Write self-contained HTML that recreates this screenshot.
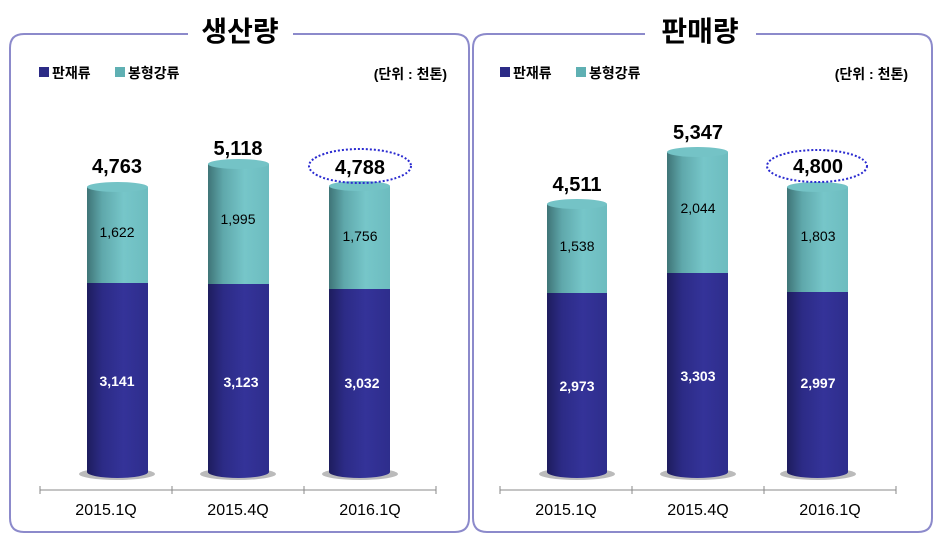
<!DOCTYPE html>
<html><head><meta charset="utf-8"><style>
body{margin:0;background:#fff}
svg text{font-family:"Liberation Sans","Noto Sans CJK KR",sans-serif}
</style></head><body>
<svg width="942" height="538" viewBox="0 0 942 538" xmlns="http://www.w3.org/2000/svg">
<defs>
<linearGradient id="gb" x1="0" x2="1" y1="0" y2="0">
<stop offset="0" stop-color="#1e1d5e"/><stop offset="0.25" stop-color="#2c2b86"/><stop offset="0.6" stop-color="#343399"/><stop offset="1" stop-color="#2e2d8c"/></linearGradient>
<linearGradient id="gt" x1="0" x2="1" y1="0" y2="0">
<stop offset="0" stop-color="#3f7477"/><stop offset="0.25" stop-color="#5fa8ab"/><stop offset="0.6" stop-color="#76c6c9"/><stop offset="1" stop-color="#6dbcbf"/></linearGradient>
</defs>
<g fill="none" stroke="#8c8acb" stroke-width="2">
<path d="M188 34 H24 Q10 34 10 48 V518 Q10 532 24 532 H455 Q469 532 469 518 V48 Q469 34 455 34 H293"/>
<path d="M645 34 H487 Q473 34 473 48 V518 Q473 532 487 532 H918 Q932 532 932 518 V48 Q932 34 918 34 H756"/>
</g>
<text x="240" y="41" font-size="28" font-weight="bold" text-anchor="middle">생산량</text>
<text x="700" y="41" font-size="28" font-weight="bold" text-anchor="middle">판매량</text>
<g font-size="14" font-weight="bold">
<rect x="39" y="67" width="10" height="10" fill="#2c2b86"/><text x="52" y="78">판재류</text>
<rect x="115" y="67" width="10" height="10" fill="#5fb0b3"/><text x="128" y="78">봉형강류</text>
<text x="447" y="79" text-anchor="end">(단위 : 천톤)</text>
<rect x="500" y="67" width="10" height="10" fill="#2c2b86"/><text x="513" y="78">판재류</text>
<rect x="576" y="67" width="10" height="10" fill="#5fb0b3"/><text x="589" y="78">봉형강류</text>
<text x="908" y="79" text-anchor="end">(단위 : 천톤)</text>
</g>
<g>
<ellipse cx="117" cy="474" rx="38" ry="6" fill="#bbb"/>
<path d="M87 283 V472 A30.5 6 0 0 0 148 472 V283 Z" fill="url(#gb)"/>
<path d="M87 187 V283 H148 V187 Z" fill="url(#gt)"/>
<ellipse cx="117.5" cy="187" rx="30.5" ry="5" fill="#74c3c6"/>
<ellipse cx="238" cy="474" rx="38" ry="6" fill="#bbb"/>
<path d="M208 284 V472 A30.5 6 0 0 0 269 472 V284 Z" fill="url(#gb)"/>
<path d="M208 164 V284 H269 V164 Z" fill="url(#gt)"/>
<ellipse cx="238.5" cy="164" rx="30.5" ry="5" fill="#74c3c6"/>
<ellipse cx="360" cy="474" rx="38" ry="6" fill="#bbb"/>
<path d="M329 289 V472 A30.5 6 0 0 0 390 472 V289 Z" fill="url(#gb)"/>
<path d="M329 186 V289 H390 V186 Z" fill="url(#gt)"/>
<ellipse cx="359.5" cy="186" rx="30.5" ry="5" fill="#74c3c6"/>
<ellipse cx="577" cy="474" rx="38" ry="6" fill="#bbb"/>
<path d="M547 293 V472 A30 6 0 0 0 607 472 V293 Z" fill="url(#gb)"/>
<path d="M547 204 V293 H607 V204 Z" fill="url(#gt)"/>
<ellipse cx="577" cy="204" rx="30" ry="5" fill="#74c3c6"/>
<ellipse cx="698" cy="474" rx="38" ry="6" fill="#bbb"/>
<path d="M667 273 V472 A30.5 6 0 0 0 728 472 V273 Z" fill="url(#gb)"/>
<path d="M667 152 V273 H728 V152 Z" fill="url(#gt)"/>
<ellipse cx="697.5" cy="152" rx="30.5" ry="5" fill="#74c3c6"/>
<ellipse cx="818" cy="474" rx="38" ry="6" fill="#bbb"/>
<path d="M787 292 V472 A30.5 6 0 0 0 848 472 V292 Z" fill="url(#gb)"/>
<path d="M787 187 V292 H848 V187 Z" fill="url(#gt)"/>
<ellipse cx="817.5" cy="187" rx="30.5" ry="5" fill="#74c3c6"/>
</g>
<g stroke="#888" stroke-width="1">
<path d="M40 490 H436 M40 486 V494 M172 486 V494 M304 486 V494 M436 486 V494"/>
<path d="M500 490 H896 M500 486 V494 M632 486 V494 M764 486 V494 M896 486 V494"/>
</g>
<g font-size="16" text-anchor="middle">
<text x="106" y="515">2015.1Q</text><text x="238" y="515">2015.4Q</text><text x="370" y="515">2016.1Q</text>
<text x="566" y="515">2015.1Q</text><text x="698" y="515">2015.4Q</text><text x="830" y="515">2016.1Q</text>
</g>
<g font-size="20" font-weight="bold" text-anchor="middle">
<text x="117" y="173">4,763</text><text x="238" y="155">5,118</text><text x="360" y="174">4,788</text>
<text x="577" y="191">4,511</text><text x="698" y="139">5,347</text><text x="818" y="173">4,800</text>
</g>
<g fill="none" stroke="#2a2ad0" stroke-width="2" stroke-dasharray="2 2">
<ellipse cx="360" cy="166" rx="51" ry="17"/>
<ellipse cx="817" cy="166" rx="50" ry="16"/>
</g>
<g font-size="14" text-anchor="middle">
<text x="117" y="237">1,622</text><text x="238" y="224">1,995</text><text x="360" y="241">1,756</text>
<text x="577" y="251">1,538</text><text x="698" y="213">2,044</text><text x="818" y="241">1,803</text>
</g>
<g font-size="14" fill="#fff" font-weight="bold" text-anchor="middle">
<text x="117" y="386">3,141</text><text x="241" y="387">3,123</text><text x="362" y="388">3,032</text>
<text x="577" y="391">2,973</text><text x="698" y="381">3,303</text><text x="818" y="388">2,997</text>
</g>
</svg>
</body></html>
